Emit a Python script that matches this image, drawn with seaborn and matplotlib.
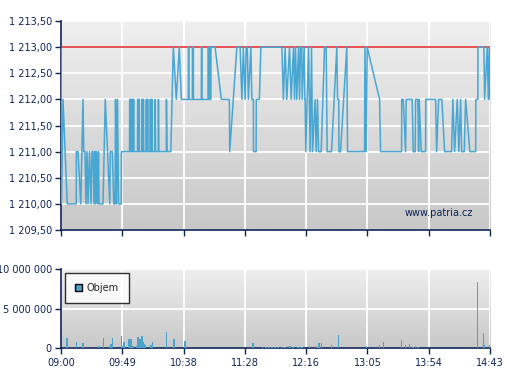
import numpy as np
import pandas as pd
import seaborn as sns
import matplotlib
matplotlib.use("Agg")
import matplotlib.pyplot as plt
from matplotlib.colors import LinearSegmentedColormap
from matplotlib.patches import Patch
from matplotlib.ticker import FuncFormatter

# time axis (minutes after 09:00)
tick_minutes = [0, 49, 98, 147, 196, 245, 294, 343]
tick_labels = ["09:00", "09:49", "10:38", "11:28", "12:16", "13:05", "13:54", "14:43"]
price_ticks = [1209.5, 1210.0, 1210.5, 1211.0, 1211.5, 1212.0, 1212.5, 1213.0, 1213.5]
vol_ticks = [0, 5000000, 10000000]
ref_price = 1213.0

# trades
price_times = [
    0, 0.4, 1.6, 5.0, 12.2, 12.3, 13.6, 15.8, 17.6, 18.2, 19.2, 20.0, 20.8, 21.6, 22.8, 24.0,
    24.8, 25.6, 26.4, 27.2, 27.6, 28.4, 29.2, 30.0, 30.4, 33.6, 35.4, 39.0, 39.4, 41.0, 42.2,
    43.2, 43.6, 44.4, 45.2, 46.0, 48.2, 48.3,
    54.8, 54.9, 55.2, 55.3, 55.6, 55.7, 56.0, 56.1, 56.8, 56.9, 57.2, 57.3, 57.8, 57.9, 58.2, 58.3,
    61.2, 61.3, 61.6, 61.7, 62.2, 62.3, 62.6, 62.7, 64.6, 64.7, 65.0, 65.1, 65.6, 65.7, 66.0, 66.1,
    68.0, 68.1, 68.4, 68.5, 69.0, 69.1, 69.4, 69.5, 71.2, 71.3, 71.6, 71.7, 72.4, 72.5, 72.8, 72.9,
    75.2, 75.3, 75.6, 77.8, 77.9, 78.2, 84.2, 84.3, 84.8,
    87.8, 89.8, 92.2, 94.6, 96.2, 101.8, 101.9, 102.2, 102.3, 105.0, 105.1, 105.8, 105.9,
    112.2, 112.3, 112.6, 112.7, 117.6, 117.7, 118.0, 118.1, 118.8, 118.9, 119.2, 119.3,
    119.8, 119.9, 123.2, 128.2, 134.6, 134.9, 140.6, 143.2, 144.6, 145.8, 147.2, 148.0, 149.0,
    149.8, 151.8, 152.6, 153.8, 153.9, 156.0, 156.1, 158.6, 159.8, 176.6, 177.8, 179.2, 180.5,
    182.7, 184.0, 185.9, 186.7, 187.5, 188.5, 189.9, 190.7, 191.5, 192.5, 192.8, 194.4, 195.0,
    195.2, 195.7, 197.9, 199.2, 200.3, 201.1, 203.2, 204.0, 205.1, 205.9, 208.0, 210.7, 212.0,
    212.8, 216.3, 220.5, 221.1, 222.1, 222.2, 223.5, 228.5, 229.1, 242.7, 243.0, 244.0, 244.8,
    254.7, 255.5, 272.3, 272.4, 273.6, 275.5, 276.0, 280.8, 281.6, 283.2, 283.5, 285.3, 285.9,
    286.4, 288.0, 291.5, 291.6, 299.5, 300.3, 301.9, 304.5, 306.7, 312.3, 313.3, 314.7, 316.8,
    318.1, 319.5, 320.3, 322.4, 323.5, 326.9, 331.5, 331.7, 333.3, 333.4, 338.1, 338.7, 340.8,
    341.6, 342.4, 343.0,
]
price_values = [
    1213, 1210, 1212, 1210, 1210, 1211, 1211, 1210, 1212, 1211, 1211, 1210, 1211, 1210, 1211, 1210,
    1211, 1211, 1210, 1211, 1210, 1211, 1210, 1211, 1210, 1210, 1212, 1210, 1211, 1211, 1210,
    1210, 1212, 1210, 1212, 1210, 1210, 1211,
    1211, 1212, 1212, 1211, 1211, 1212, 1212, 1211, 1211, 1212, 1212, 1211, 1211, 1212, 1212, 1211,
    1211, 1212, 1212, 1211, 1211, 1212, 1212, 1211, 1211, 1212, 1212, 1211, 1211, 1212, 1212, 1211,
    1211, 1212, 1212, 1211, 1211, 1212, 1212, 1211, 1211, 1212, 1212, 1211, 1211, 1212, 1212, 1211,
    1211, 1212, 1211, 1211, 1212, 1211, 1211, 1212, 1211,
    1211, 1213, 1212, 1213, 1212, 1212, 1213, 1213, 1212, 1212, 1213, 1213, 1212,
    1212, 1213, 1213, 1212, 1212, 1213, 1213, 1212, 1212, 1213, 1213, 1212,
    1212, 1213, 1213, 1212, 1212, 1211, 1213, 1213, 1212, 1213, 1212, 1213, 1213,
    1212, 1213, 1212, 1212, 1211, 1211, 1212, 1212, 1213, 1213, 1212, 1213, 1212,
    1213, 1212, 1213, 1212, 1213, 1212, 1213, 1212, 1213, 1213, 1212, 1213, 1212,
    1212, 1211, 1213, 1211, 1213, 1211, 1212, 1211, 1212, 1211, 1211, 1213, 1213,
    1211, 1211, 1213, 1212, 1212, 1211, 1211, 1213, 1211, 1211, 1213, 1211, 1213,
    1212, 1211, 1211, 1212, 1212, 1211, 1212, 1212, 1211, 1211, 1212, 1212, 1211,
    1212, 1211, 1211, 1212, 1212, 1211, 1212, 1212, 1211, 1211, 1212, 1211, 1212,
    1211, 1212, 1211, 1211, 1212, 1211, 1211, 1212, 1212, 1213, 1213, 1212, 1213,
    1212, 1213, 1212,
]

vol_times = [
    4.8, 6.4, 9.6, 10.8, 12.2, 16.6, 17.6, 19.4, 22.4, 26.4, 30.4, 33.8, 39.0, 39.8, 41.0, 42.9,
    48.2, 49.0, 50.4, 54.4, 55.0, 55.8, 56.8, 57.6, 60.2, 61.0, 61.6, 63.0, 63.8, 64.8, 65.6,
    66.4, 67.4, 71.8, 73.0, 74.4, 84.2, 89.0, 90.2, 99.2, 105.6, 119.4, 153.6,
    158.4, 159.8, 161.0, 162.4, 163.8, 165.0, 166.4, 168.8, 171.0, 173.6, 176.2, 178.2, 179.4,
    183.0, 185.6, 189.4, 192.0, 192.8, 198.6, 203.4, 205.0, 206.2, 208.2, 211.4, 216.2, 221.8,
    229.0, 244.2, 254.6, 257.8, 265.8, 272.2, 275.4, 278.6, 281.4, 283.4, 285.6, 299.4,
    333.0, 337.6, 338.6, 342.6,
]
vol_values = [
    1260000, 100000, 100000, 100000, 840000, 100000, 700000, 80000, 100000, 100000, 250000,
    1260000, 300000, 600000, 1260000, 100000, 1600000, 250000, 750000, 1200000, 1200000,
    1200000, 100000, 250000, 350000, 600000, 1400000, 1200000, 600000, 1500000, 800000,
    600000, 400000, 400000, 750000, 100000, 2100000, 100000, 1200000, 950000, 100000, 100000,
    700000,
    100000, 100000, 120000, 100000, 150000, 100000, 200000, 150000, 200000, 150000, 200000,
    150000, 200000, 250000, 200000, 200000, 200000, 150000, 300000, 300000, 150000, 670000,
    670000, 100000, 420000, 1680000, 100000, 300000, 460000, 800000, 100000, 1050000, 420000,
    550000, 150000, 340000, 150000, 100000,
    8300000, 1970000, 420000, 420000,
]

navy = "#0c2456"
line_blue = "#47a6d2"
bar_blue = "#4aa3cc"

sns.set_theme(style="white")
plt.rcParams["font.family"] = ["DejaVu Sans"]

fig = plt.figure(figsize=(5.07, 3.80), dpi=100)
ax1 = fig.add_axes([0.1203, 0.3947, 0.8462, 0.5500])
ax2 = fig.add_axes([0.1203, 0.0834, 0.8462, 0.2087])

grad = np.linspace(0, 1, 256).reshape(-1, 1)
bg1 = LinearSegmentedColormap.from_list("bg1", ["#c8c8c8", "#efefef"])
for ax in (ax1, ax2):
    ax.imshow(grad, extent=[0, 1, 0, 1], transform=ax.transAxes, cmap=bg1,
              aspect="auto", origin="lower", zorder=-2)
    ax.set_axisbelow(True)
    ax.grid(True, color="white", lw=1.3)
    for s in ("top", "right"):
        ax.spines[s].set_visible(False)
    for s in ("left", "bottom"):
        ax.spines[s].set_color(navy)
        ax.spines[s].set_linewidth(1.2)
    ax.tick_params(direction="out", length=4, width=1, color=navy,
                   labelcolor=navy, labelsize=7, left=True, bottom=True)
    ax.set_xticks(tick_minutes)
    ax.set_xlim(0, 343)

# price panel
trades = pd.DataFrame({"t": price_times, "price": price_values})
ax1.axhline(ref_price, color="#e02424", lw=1.1, zorder=2)
sns.lineplot(data=trades, x="t", y="price", sort=False, estimator=None,
             color=line_blue, lw=1.1, ax=ax1, zorder=3)
ax1.set_ylim(1209.5, 1213.5)
ax1.set_yticks(price_ticks)
ax1.yaxis.set_major_formatter(FuncFormatter(
    lambda v, p: f"{v:,.2f}".replace(",", " ").replace(".", ",")))
ax1.tick_params(axis="y", pad=2.5)
ax1.set_xticklabels([])
ax1.set_xlabel("")
ax1.set_ylabel("")
ax1.text(0.960, 0.081, "www.patria.cz", transform=ax1.transAxes, ha="right",
         va="center", fontsize=7, color=navy)

# volume panel
ax2.bar(vol_times, vol_values, width=1.2, color=bar_blue, edgecolor="none",
        linewidth=0, zorder=3)
ax2.set_ylim(0, 10000000)
ax2.set_yticks(vol_ticks)
ax2.yaxis.set_major_formatter(FuncFormatter(lambda v, p: f"{int(v):,}".replace(",", " ")))
ax2.set_xticklabels(tick_labels)
ax2.tick_params(axis="y", pad=2.5)
ax2.tick_params(axis="x", pad=3)
leg = ax2.legend(handles=[Patch(facecolor=bar_blue, edgecolor="black", label="Objem")],
                 loc="upper left", bbox_to_anchor=(0.0093, 0.946), borderaxespad=0,
                 fontsize=7, handlelength=0.75, handleheight=0.75, handletextpad=0.5,
                 borderpad=1.0, fancybox=False, frameon=True)
leg.get_frame().set_edgecolor("black")
leg.get_frame().set_linewidth(1.0)
leg.get_frame().set_facecolor((1, 1, 1, 0))

fig.savefig("out.png", dpi=100)
